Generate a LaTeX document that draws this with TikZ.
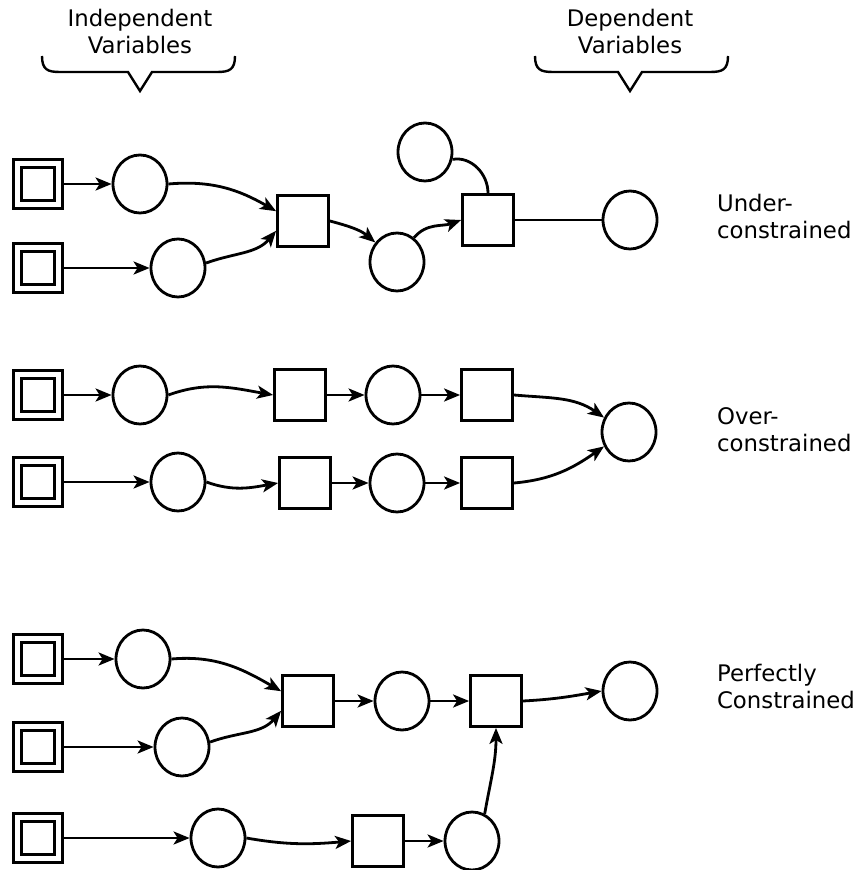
\documentclass[tikz,border=0pt]{standalone}
\usepackage{fontspec}
\setmainfont{DejaVu Sans}
\usetikzlibrary{positioning,shapes.geometric,arrows.meta}

\begin{document}
\begin{tikzpicture}[
        x=0.5pt, y=-0.5pt,
        var/.style={
            ellipse, draw, line width=1.4pt,
            minimum width=27pt, minimum height=29pt, inner sep=0pt
        },
        con/.style={
            rectangle, draw, line width=1.4pt,
            minimum size=25.5pt, inner sep=0pt
        },
        indep/.style={
            rectangle, draw, line width=1.4pt, double, double distance=2.6pt,
            minimum size=20.6pt, inner sep=0pt, outer sep=2.7pt
        },
        rowtext/.style={font=\fontsize{11.4}{13.5}\selectfont, align=left, anchor=west},
        headtext/.style={font=\fontsize{11.4}{13.5}\selectfont, align=center},
        arrow/.style={-{Stealth[length=8pt,width=6.5pt,inset=2pt]}, line width=1.4pt},
        link/.style={line width=1.4pt},
        brace/.style={line width=1.2pt}
    ]
        \useasboundingbox (0,0) rectangle (860,870);

        % headings
        \node[headtext] (indephead) at (140,32) {Independent\\Variables};
        \node[headtext] (dephead) at (630,32) {Dependent\\Variables};
        \draw[brace] (42,56) .. controls (42,70) and (48,72) .. (60,72) -- (128,72)
            -- (140,91) -- (152,72) -- (217,72) .. controls (229,72) and (235,70) .. (235,56);
        \draw[brace] (535,56) .. controls (535,70) and (541,72) .. (553,72) -- (618,72)
            -- (630,91) -- (642,72) -- (710,72) .. controls (722,72) and (728,70) .. (728,56);

        % under-constrained
        \node[indep] (ua) at (38,184) {};
        \node[indep] (ub) at (38,268) {};
        \node[var] (uc) at (140,184) {};
        \node[var] (ud) at (178,268) {};
        \node[con] (ue) at (303,221) {};
        \node[var] (uf) at (397,262) {};
        \node[con] (ug) at (488,220) {};
        \node[var] (uh) at (425,152) {};
        \node[var] (ui) at (630,220) {};
        \node[rowtext] (utext) at (710,217) {Under-\\constrained};

        \draw[arrow] (ua) -- (uc);
        \draw[arrow] (ub) -- (ud);
        \draw[arrow] (uc.east) to[out=5, in=150] (ue.160);
        \draw[arrow] (ud.10) to[out=20, in=-130] (ue.200);
        \draw[arrow] (ue.east) to[out=-15, in=140] (uf.138);
        \draw[arrow] (uf.55) to[out=50, in=200] (ug.west);
        \draw[link] (uh.-15) to[out=10, in=90] (ug.north);
        \draw[link] (ug) -- (ui);

        % over-constrained
        \node[indep] (oa) at (38,395) {};
        \node[indep] (ob) at (38,482) {};
        \node[var] (oc) at (140,395) {};
        \node[con] (od) at (300,395) {};
        \node[var] (oe) at (393,395) {};
        \node[con] (of) at (487,395) {};
        \node[var] (og) at (178,482) {};
        \node[con] (oh) at (305,483) {};
        \node[var] (oi) at (397,483) {};
        \node[con] (oj) at (487,483) {};
        \node[var] (ok) at (629,432) {};
        \node[rowtext] (otext) at (710,430) {Over-\\constrained};

        \draw[arrow] (oa) -- (oc);
        \draw[arrow] (oc.east) to[out=20, in=170] (od.west);
        \draw[arrow] (od) -- (oe);
        \draw[arrow] (oe) -- (of);
        \draw[arrow] (of.east) to[out=-5, in=145] (ok.150);
        \draw[arrow] (ob) -- (og);
        \draw[arrow] (og.east) to[out=-20, in=190] (oh.west);
        \draw[arrow] (oh) -- (oi);
        \draw[arrow] (oi) -- (oj);
        \draw[arrow] (oj.east) to[out=5, in=-145] (ok.210);

        % perfectly constrained
        \node[indep] (pa) at (38,659) {};
        \node[indep] (pb) at (38,747) {};
        \node[indep] (pc) at (38,838) {};
        \node[var] (pd) at (143,659) {};
        \node[var] (pe) at (182,747) {};
        \node[con] (pf) at (308,701) {};
        \node[var] (pg) at (402,701) {};
        \node[con] (ph) at (496,701) {};
        \node[var] (pi) at (630,691) {};
        \node[var] (pj) at (218,838) {};
        \node[con] (pk) at (378,841) {};
        \node[var] (pl) at (472,841) {};
        \node[rowtext] (ptext) at (710,686) {Perfectly\\Constrained};

        \draw[arrow] (pa) -- (pd);
        \draw[arrow] (pb) -- (pe);
        \draw[arrow] (pd.east) to[out=5, in=150] (pf.160);
        \draw[arrow] (pe.10) to[out=20, in=-130] (pf.200);
        \draw[arrow] (pf) -- (pg);
        \draw[arrow] (pg) -- (ph);
        \draw[arrow] (ph.east) to[out=3, in=190] (pi.west);
        \draw[arrow] (pc) -- (pj);
        \draw[arrow] (pj.east) to[out=-10, in=185] (pk.west);
        \draw[arrow] (pk) -- (pl);
        \draw[arrow] (pl.65) to[out=80, in=-90] (ph.south);
    \end{tikzpicture}
\end{document}
